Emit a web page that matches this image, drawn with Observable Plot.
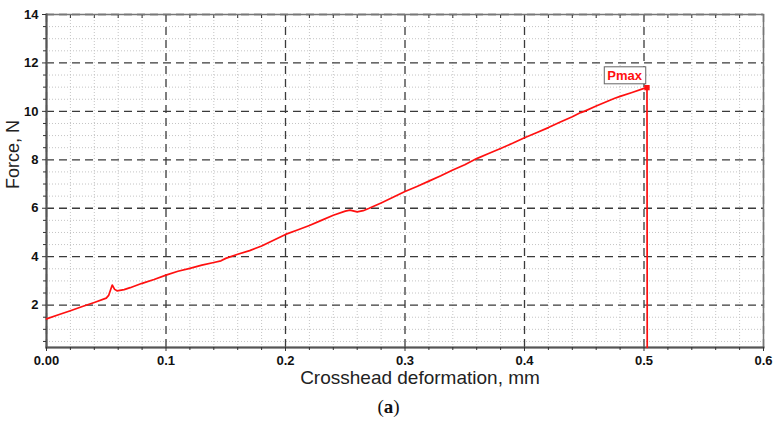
<!DOCTYPE html>
<html><head><meta charset="utf-8">
<script src="https://cdn.jsdelivr.net/npm/d3@7"></script>
<script src="https://cdn.jsdelivr.net/npm/@observablehq/plot@0.6"></script>
<style>
body{margin:0;background:#fff;}
#chart{width:777px;height:392px;}
#cap{font-family:"Liberation Serif","DejaVu Serif",serif;font-size:19px;color:#111;text-align:center;width:777px;height:32px;line-height:30px;}
#chart svg text{font-family:"Liberation Sans",Arial,sans-serif;}
</style></head><body>
<div id="chart"></div>
<div id="cap">(<b>a</b>)</div>
<script>
const deformation = [0.000,0.010,0.020,0.030,0.040,0.050,0.052,0.055,0.057,0.059,0.065,0.070,0.080,0.090,0.100,0.110,0.120,0.130,0.140,0.146,0.150,0.160,0.170,0.180,0.190,0.200,0.210,0.220,0.230,0.240,0.250,0.254,0.260,0.265,0.270,0.280,0.290,0.300,0.310,0.320,0.330,0.340,0.350,0.356,0.360,0.370,0.380,0.390,0.400,0.410,0.420,0.430,0.440,0.447,0.450,0.460,0.470,0.475,0.480,0.490,0.500,0.5025,0.5027];
const force = [1.43,1.60,1.77,1.94,2.11,2.29,2.40,2.83,2.65,2.59,2.64,2.72,2.90,3.06,3.24,3.40,3.52,3.65,3.76,3.83,3.93,4.10,4.25,4.44,4.68,4.92,5.10,5.29,5.50,5.71,5.88,5.92,5.85,5.90,6.00,6.22,6.45,6.69,6.90,7.12,7.34,7.58,7.80,7.95,8.05,8.26,8.47,8.68,8.91,9.12,9.33,9.56,9.78,9.95,10.00,10.22,10.43,10.53,10.62,10.78,10.95,10.98,0.25];
const xMajorTicks = [0,0.1,0.2,0.3,0.4,0.5,0.6];
const xMinorTicks = [0.02,0.04,0.06,0.08,0.12,0.14,0.16,0.18,0.22,0.24,0.26,0.28,0.32,0.34,0.36,0.38,0.42,0.44,0.46,0.48,0.52,0.54,0.56,0.58];
const yMajorTicks = [2,4,6,8,10,12,14];
const yMinorTicks = [0.5,1,1.5,2.5,3,3.5,4.5,5,5.5,6.5,7,7.5,8.5,9,9.5,10.5,11,11.5,12.5,13,13.5];
const peakLabel = "Pmax";
const xTitle = "Crosshead deformation, mm";
const yTitle = "Force, N";

const data = deformation.map((x, i) => ({x, y: force[i]}));
const peak = data.reduce((a, b) => (b.y > a.y ? b : a));

const chart = Plot.plot({
  width: 777, height: 392,
  marginLeft: 46, marginRight: 14, marginTop: 14, marginBottom: 45,
  style: {fontFamily: "Liberation Sans, Arial, sans-serif", fontSize: "13px", background: "white", color: "#111", overflow: "visible"},
  x: {domain: [0, 0.6]},
  y: {domain: [0.25, 14]},
  marks: [
    Plot.gridX(xMinorTicks, {stroke: "#c4c4c4", strokeOpacity: 1, strokeDasharray: "1,2", strokeWidth: 1}),
    Plot.gridY(yMinorTicks, {stroke: "#c4c4c4", strokeOpacity: 1, strokeDasharray: "1,2", strokeWidth: 1}),
    Plot.gridX(xMajorTicks, {stroke: "#3a3a3a", strokeOpacity: 1, strokeDasharray: "8,5", strokeWidth: 1.3}),
    Plot.gridY(yMajorTicks, {stroke: "#3a3a3a", strokeOpacity: 1, strokeDasharray: "8,5", strokeWidth: 1.3}),
    Plot.frame({stroke: "#777", strokeWidth: 1.5}),
    Plot.frame({anchor: "left", stroke: "#555", strokeWidth: 2}),
    Plot.frame({anchor: "bottom", stroke: "#555", strokeWidth: 2}),
    Plot.axisX(xMinorTicks, {anchor: "bottom", tickSize: 3, tickFormat: () => "", label: null, stroke: "#333"}),
    Plot.axisX(xMinorTicks, {anchor: "top", tickSize: -3, tickFormat: () => "", label: null, stroke: "#333"}),
    Plot.axisX(xMajorTicks, {anchor: "bottom", tickSize: 4, tickPadding: 4, tickFormat: d => (d === 0 ? "0.00" : String(d)), label: null, stroke: "#333", fontWeight: "bold", fontSize: 13, fill: "#111"}),
    Plot.axisY(yMinorTicks, {anchor: "left", tickSize: 3, tickFormat: () => "", label: null, stroke: "#333"}),
    Plot.axisY(yMajorTicks, {anchor: "left", tickSize: 4, tickPadding: 4, label: null, stroke: "#333", fontWeight: "bold", fontSize: 13, fill: "#111"}),
    Plot.line(data, {x: "x", y: "y", stroke: "#ff1010", strokeWidth: 1.7}),
    Plot.dot([peak], {x: "x", y: "y", symbol: "square", r: 3, fill: "#ff1010", stroke: null}),
    Plot.text([peak], {x: "x", y: "y", text: () => peakLabel, textAnchor: "end", dx: -5, dy: -12, fill: "#ff1010", fontWeight: "bold", fontSize: 13, className: "pmaxlabel"}),
    Plot.text([xTitle], {frameAnchor: "bottom", dy: 36, dx: 15, fontSize: 19, fill: "#222"}),
    Plot.text([yTitle], {frameAnchor: "left", rotate: -90, dx: -33, dy: 8, fontSize: 18, fill: "#222"})
  ]
});
document.getElementById("chart").appendChild(chart);

// draw a framed box behind the Pmax label
const lab = chart.querySelector(".pmaxlabel text");
if (lab) {
  const bb = lab.getBBox();
  const ctm = lab.getAttribute("transform");
  const rect = document.createElementNS("http://www.w3.org/2000/svg", "rect");
  rect.setAttribute("x", bb.x - 3);
  rect.setAttribute("y", bb.y - 1);
  rect.setAttribute("width", bb.width + 6);
  rect.setAttribute("height", bb.height + 2);
  rect.setAttribute("fill", "white");
  rect.setAttribute("stroke", "#666");
  rect.setAttribute("stroke-width", "1");
  if (ctm) rect.setAttribute("transform", ctm);
  lab.parentNode.insertBefore(rect, lab);
}
</script>
</body></html>
